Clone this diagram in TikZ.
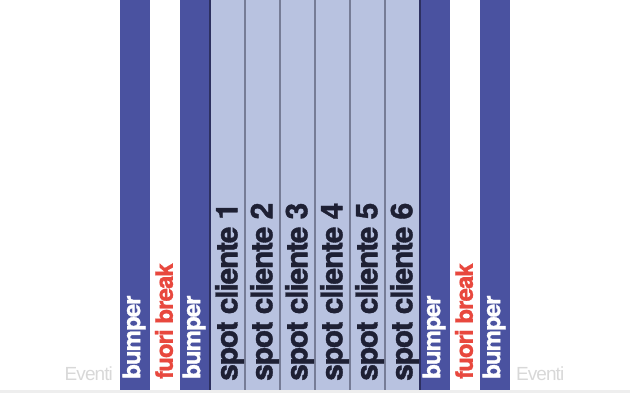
\documentclass[tikz,border=0pt]{standalone}
\usepackage{fontspec}
\setmainfont{TeX Gyre Heros}
\newfontfamily\eventifont[LetterSpace=-5]{Liberation Sans}
\newfontfamily\colfont[LetterSpace=-4, BoldFeatures={FakeBold=1.2}]{TeX Gyre Heros}
\usetikzlibrary{positioning,calc}
\definecolor{bumperBlue}{RGB}{74,82,160}
\definecolor{spotBlue}{RGB}{184,194,224}
\definecolor{spotLine}{RGB}{118,124,150}
\definecolor{edgeLine}{RGB}{45,48,96}
\definecolor{breakRed}{RGB}{232,72,62}
\definecolor{spotInk}{RGB}{30,32,52}
\definecolor{eventiGray}{RGB}{216,216,216}
\definecolor{baseGray}{RGB}{238,238,238}

\begin{document}
\begin{tikzpicture}[x=1pt,y=1pt,
        col/.style={minimum height=390pt, inner sep=0pt, outer sep=0pt},
        bumperbox/.style={col, minimum width=30pt, fill=bumperBlue},
        breakbox/.style={col, minimum width=30pt},
        spotbox/.style={col, minimum width=35pt, fill=spotBlue},
        vtext/.style={rotate=90, anchor=west, inner sep=0pt, font=\colfont\bfseries\fontsize{24}{24}\selectfont},
        bumpertxt/.style={vtext, text=white},
        breaktxt/.style={vtext, text=breakRed},
        spottxt/.style={vtext, text=spotInk, font=\colfont\bfseries\fontsize{30}{30}\selectfont},
        divider/.style={draw=spotLine, line width=2pt},
        edge/.style={draw=edgeLine, line width=1.2pt},
        eventi/.style={inner sep=0pt, text=eventiGray, font=\eventifont\fontsize{19}{19}\selectfont}]
    \useasboundingbox (0,0) rectangle (630,407);

    % base line
    \fill[baseGray] (0,14) rectangle (630,17);

    % columns
    \node[bumperbox] (bump1) at (135,212) {};
    \node[breakbox] (brk1) at (165,212) {};
    \node[bumperbox] (bump2) at (195,212) {};
    \node[spotbox] (spot1) at (227.5,212) {};
    \node[spotbox] (spot2) at (262.5,212) {};
    \node[spotbox] (spot3) at (297.5,212) {};
    \node[spotbox] (spot4) at (332.5,212) {};
    \node[spotbox] (spot5) at (367.5,212) {};
    \node[spotbox] (spot6) at (402.5,212) {};
    \node[bumperbox] (bump3) at (435,212) {};
    \node[breakbox] (brk2) at (465,212) {};
    \node[bumperbox] (bump4) at (495,212) {};

    % dividers
    \draw[divider] (spot1.north east) -- (spot1.south east);
    \draw[divider] (spot2.north east) -- (spot2.south east);
    \draw[divider] (spot3.north east) -- (spot3.south east);
    \draw[divider] (spot4.north east) -- (spot4.south east);
    \draw[divider] (spot5.north east) -- (spot5.south east);
    \draw[edge] (spot1.north west) -- (spot1.south west);
    \draw[edge] (spot6.north east) -- (spot6.south east);

    % labels
    \node[bumpertxt] (bump1txt) at ($(bump1.south)+(-1,11)$) {bumper};
    \node[breaktxt] (brk1txt) at ($(brk1.south)+(-1,11)$) {fuori break};
    \node[bumpertxt] (bump2txt) at ($(bump2.south)+(-1,11)$) {bumper};
    \node[spottxt] (spot1txt) at ($(spot1.south)+(2,9)$) {spot cliente 1};
    \node[spottxt] (spot2txt) at ($(spot2.south)+(2,9)$) {spot cliente 2};
    \node[spottxt] (spot3txt) at ($(spot3.south)+(2,9)$) {spot cliente 3};
    \node[spottxt] (spot4txt) at ($(spot4.south)+(2,9)$) {spot cliente 4};
    \node[spottxt] (spot5txt) at ($(spot5.south)+(2,9)$) {spot cliente 5};
    \node[spottxt] (spot6txt) at ($(spot6.south)+(2,9)$) {spot cliente 6};
    \node[bumpertxt] (bump3txt) at ($(bump3.south)+(-1,11)$) {bumper};
    \node[breaktxt] (brk2txt) at ($(brk2.south)+(-1,11)$) {fuori break};
    \node[bumpertxt] (bump4txt) at ($(bump4.south)+(-1,11)$) {bumper};

    \node[eventi, anchor=base east] (evleft) at (113,26) {Eventi};
    \node[eventi, anchor=base west] (evright) at (516,26) {Eventi};
\end{tikzpicture}
\end{document}
